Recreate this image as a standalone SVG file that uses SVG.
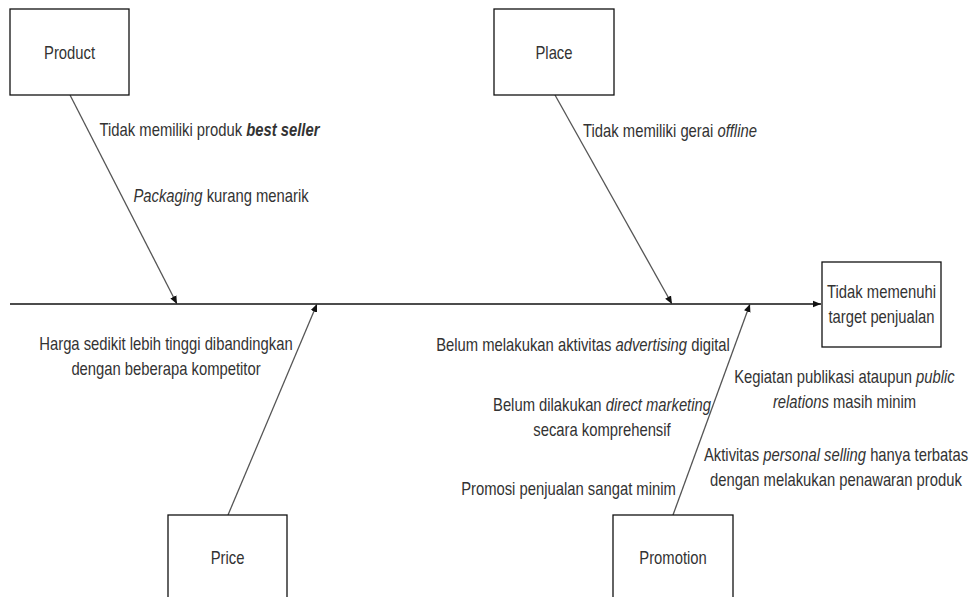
<svg xmlns="http://www.w3.org/2000/svg" width="972" height="597" viewBox="0 0 972 597">
<defs>
<style>
.box{fill:#ffffff;stroke:#111111;stroke-width:1.3}
.bone{stroke:#555555;stroke-width:1.3;fill:none}
.spine{stroke:#111111;stroke-width:1.3;fill:none}
.t{font-family:"Liberation Sans",Arial,sans-serif;font-size:18.5px;fill:#333333;text-anchor:middle}
.i{font-style:italic}
.b{font-weight:bold}
</style>
<marker id="ah" viewBox="0 0 10 10" refX="10" refY="5" markerWidth="8" markerHeight="8" markerUnits="userSpaceOnUse" orient="auto">
<path d="M0,0.8 L10,5 L0,9.2 Z" fill="#111111"/>
</marker>
</defs>
<rect width="972" height="597" fill="#ffffff"/>
<g id="connectors">
<line class="spine" x1="10" y1="304" x2="821" y2="304" marker-end="url(#ah)"/>
<line class="bone" x1="70" y1="95" x2="177" y2="304" marker-end="url(#ah)"/>
<line class="bone" x1="555" y1="95" x2="672" y2="304" marker-end="url(#ah)"/>
<line class="bone" x1="228" y1="515" x2="317" y2="304" marker-end="url(#ah)"/>
<line class="bone" x1="673" y1="515" x2="750" y2="304" marker-end="url(#ah)"/>
</g>
<g id="product"><rect class="box" x="10" y="9" width="119" height="86"/></g>
<g id="place"><rect class="box" x="494" y="9" width="120" height="86"/></g>
<g id="price"><rect class="box" x="168" y="515" width="119" height="100"/></g>
<g id="promotion"><rect class="box" x="613" y="515" width="120" height="100"/></g>
<g id="effect"><rect class="box" x="822" y="262" width="119" height="85"/></g>
<g id="labels" transform="scale(0.8,1)">
<text class="t" x="86.9" y="59">Product</text>
<text class="t" x="692.5" y="59">Place</text>
<text class="t" x="284.4" y="564">Price</text>
<text class="t" x="841.3" y="564">Promotion</text>
<text class="t" x="1101.9" y="298">Tidak memenuhi</text>
<text class="t" x="1101.9" y="323">target penjualan</text>
<text class="t" x="261.9" y="136">Tidak memiliki produk <tspan class="i b">best seller</tspan></text>
<text class="t" x="276.3" y="202"><tspan class="i">Packaging</tspan> kurang menarik</text>
<text class="t" x="837.5" y="137">Tidak memiliki gerai <tspan class="i">offline</tspan></text>
<text class="t" x="207.5" y="350">Harga sedikit lebih tinggi dibandingkan</text>
<text class="t" x="207.5" y="375">dengan beberapa kompetitor</text>
<text class="t" x="728.8" y="351">Belum melakukan aktivitas <tspan class="i">advertising</tspan> digital</text>
<text class="t" x="752.5" y="411">Belum dilakukan <tspan class="i">direct marketing</tspan></text>
<text class="t" x="752.5" y="436">secara komprehensif</text>
<text class="t" x="710.6" y="495">Promosi penjualan sangat minim</text>
<text class="t" x="1055.6" y="383">Kegiatan publikasi ataupun <tspan class="i">public</tspan></text>
<text class="t" x="1055.6" y="408"><tspan class="i">relations</tspan> masih minim</text>
<text class="t" x="1045" y="461">Aktivitas <tspan class="i">personal selling</tspan> hanya terbatas</text>
<text class="t" x="1045" y="486">dengan melakukan penawaran produk</text>
</g>
</svg>
